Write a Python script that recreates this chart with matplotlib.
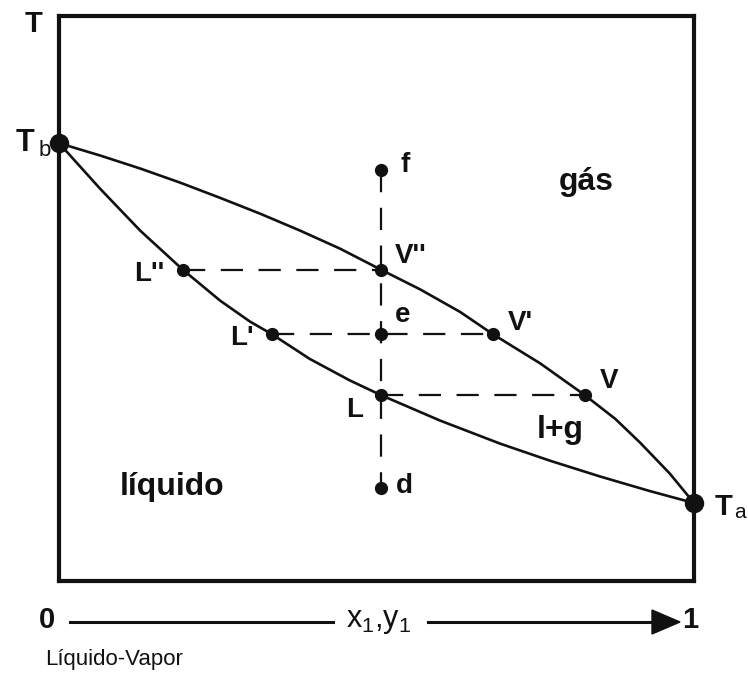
import matplotlib
matplotlib.use("Agg")
import matplotlib.pyplot as plt

plt.rcParams["font.family"] = ["Liberation Sans", "DejaVu Sans"]

# composition (x1, y1) and normalised temperature
VAPOR_X = [0.000, 0.065, 0.128, 0.191, 0.254, 0.317, 0.380, 0.443, 0.507, 0.569,
           0.632, 0.683, 0.758, 0.828, 0.876, 0.915, 0.962, 1.000]
VAPOR_T = [0.775, 0.753, 0.730, 0.705, 0.678, 0.650, 0.620, 0.588, 0.551, 0.516,
           0.476, 0.437, 0.385, 0.329, 0.287, 0.245, 0.190, 0.138]

LIQUID_X = [0.000, 0.065, 0.128, 0.195, 0.254, 0.301, 0.335, 0.395, 0.458, 0.507,
            0.600, 0.695, 0.773, 0.852, 0.931, 1.000]
LIQUID_T = [0.775, 0.694, 0.620, 0.551, 0.496, 0.459, 0.437, 0.393, 0.355, 0.329,
            0.284, 0.243, 0.213, 0.185, 0.159, 0.138]

POINT_NAMES = ["f", "V''", "e", "V'", "V", "L''", "L'", "L", "d"]
POINT_X = [0.507, 0.507, 0.507, 0.683, 0.828, 0.195, 0.335, 0.507, 0.507]
POINT_T = [0.727, 0.551, 0.437, 0.437, 0.329, 0.551, 0.437, 0.329, 0.165]

# tie lines: (left point, right point)
TIE_LINES = [("L''", "V''"), ("L'", "V'"), ("L", "V")]

PURE_X = [0.0, 1.0]
PURE_T = [0.775, 0.138]

REGION_NAMES = ["gás", "líquido", "l+g"]
REGION_X = [0.830, 0.178, 0.789]
REGION_T = [0.706, 0.166, 0.267]

# label offsets in points (style only)
LABEL_OFFSETS = {
    "f": (14, 4, "left"),
    "V''": (10, 10, "left"),
    "e": (10, 14, "left"),
    "V'": (11, 8, "left"),
    "V": (11, 10, "left"),
    "L''": (-13, -3, "right"),
    "L'": (-13, -3, "right"),
    "L": (-13, -11, "right"),
    "d": (11, 1, "left"),
}

W, H = 748, 673
fig = plt.figure(figsize=(W / 100, H / 100), dpi=100)
ax = fig.add_axes([59 / W, (H - 581) / H, 635 / W, 565 / H])
ax.set_xlim(0, 1)
ax.set_ylim(0, 1)
ax.set_xticks([])
ax.set_yticks([])
for sp in ax.spines.values():
    sp.set_linewidth(3.0)
    sp.set_color("#111111")

ink = "#111111"
dash = dict(color=ink, lw=1.6, dashes=(10, 7), zorder=2)

ax.plot(VAPOR_X, VAPOR_T, color=ink, lw=1.9, zorder=3, solid_joinstyle="round")
ax.plot(LIQUID_X, LIQUID_T, color=ink, lw=1.9, zorder=3, solid_joinstyle="round")

pts = {n: (x, t) for n, x, t in zip(POINT_NAMES, POINT_X, POINT_T)}
for left, right in TIE_LINES:
    ax.plot([pts[left][0], pts[right][0]], [pts[left][1], pts[right][1]], **dash)
ax.plot([pts["f"][0], pts["d"][0]], [pts["f"][1], pts["d"][1]], **dash)

ax.plot(POINT_X, POINT_T, "o", color=ink, ms=8.5, zorder=4, clip_on=False)
ax.plot(PURE_X, PURE_T, "o", color=ink, ms=13, zorder=5, clip_on=False)

for n, x, t in zip(POINT_NAMES, POINT_X, POINT_T):
    dx, dy, ha = LABEL_OFFSETS[n]
    ax.annotate(n, (x, t), xytext=(dx, dy), textcoords="offset points",
                ha=ha, va="center", fontsize=20, fontweight="bold", color=ink)

for n, x, t in zip(REGION_NAMES, REGION_X, REGION_T):
    ax.text(x, t, n, ha="center", va="center", fontsize=23,
            fontweight="bold", color=ink)

# pure component temperatures
ax.annotate("T", (PURE_X[0], PURE_T[0]), xytext=(-18, 0), textcoords="offset points",
            ha="right", va="center", fontsize=22, fontweight="bold", color=ink,
            annotation_clip=False)
ax.annotate("b", (PURE_X[0], PURE_T[0]), xytext=(-6, -5), textcoords="offset points",
            ha="right", va="center", fontsize=16, color=ink, annotation_clip=False)
ax.annotate("T", (PURE_X[1], PURE_T[1]), xytext=(15, -3), textcoords="offset points",
            ha="left", va="center", fontsize=21, fontweight="bold", color=ink,
            annotation_clip=False)
ax.annotate("a", (PURE_X[1], PURE_T[1]), xytext=(29, -7), textcoords="offset points",
            ha="left", va="center", fontsize=15, color=ink, annotation_clip=False)

ax.text(-0.040, 0.985, "T", transform=ax.transAxes, ha="center", va="center",
        fontsize=21, fontweight="bold", color=ink)


# composition arrow under the box
def fx(px):
    return px / W


def fy(py):
    return 1 - py / H


fig.text(fx(47), fy(620), "0", ha="center", va="center", fontsize=21,
         fontweight="bold", color=ink)
fig.text(fx(690), fy(620), "1", ha="center", va="center", fontsize=21,
         fontweight="bold", color=ink)
fig.text(fx(379), fy(621), "x$_\\mathregular{1}$,y$_\\mathregular{1}$", ha="center",
         va="center", fontsize=22, color=ink)
fig.add_artist(plt.Line2D([fx(70), fx(333)], [fy(622), fy(622)], color=ink, lw=2.2))
fig.add_artist(plt.Line2D([fx(428), fx(655)], [fy(622), fy(622)], color=ink, lw=2.2))
fig.add_artist(plt.Polygon([[fx(652), fy(610)], [fx(680), fy(622)], [fx(652), fy(634)]],
                           closed=True, color=ink))
fig.text(fx(45), fy(660), "Líquido-Vapor", ha="left", va="center", fontsize=16,
         color=ink)

fig.savefig("out.png", dpi=100, facecolor="white")
